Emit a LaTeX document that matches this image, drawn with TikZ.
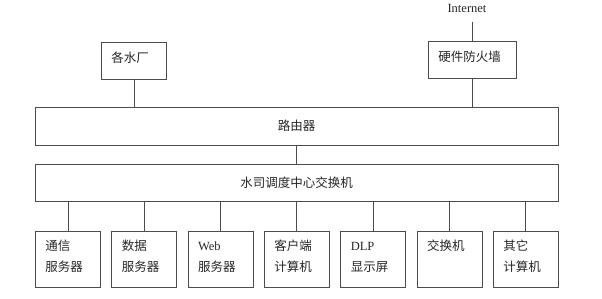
\documentclass[tikz,border=0pt]{standalone}
\usepackage{fontspec}
\setmainfont{Noto Sans CJK SC}
\newfontfamily\latin{Liberation Serif}
\usepackage{tikz}
\usetikzlibrary{positioning}

\begin{document}
\begin{tikzpicture}[x=1pt, y=-1pt,
  font=\fontsize{12.5}{21}\selectfont,
  box/.style={draw=black!70, line width=0.9pt, text=black!85},
  topbox/.style={box, anchor=north west, inner xsep=10pt, inner ysep=0pt, align=left, text height=20pt, text depth=17pt},
  unit/.style={box, inner xsep=10pt, inner ysep=0pt, text width=45pt, align=left, text height=19pt, text depth=37pt},
  bar/.style={box, minimum width=523pt, inner sep=0pt},
  link/.style={draw=black!70, line width=0.9pt}]
\useasboundingbox (0,0) rectangle (602,298);
% upper level
\node[text=black!85] (inet) at (467,8) {\latin Internet};
\node[topbox, text width=45pt] (plants) at (101,42) {各水厂};
\node[topbox, text width=68pt] (fw) at (428,41) {硬件防火墙};
\node[bar, minimum height=38pt] (router) at (296.5,126) {路由器};
\node[bar, minimum height=37pt] (switch) at (296.5,182.5) {水司调度中心交换机};
% terminals
\node[unit, anchor=north west] (comm) at (35,231) {通信\\服务器};
\node[unit, right=10.43pt of comm] (data) {数据\\服务器};
\node[unit, right=10.43pt of data] (web) {{\latin Web}\\服务器};
\node[unit, right=10.43pt of web] (client) {客户端\\计算机};
\node[unit, right=10.43pt of client] (dlp) {{\latin DLP}\\显示屏};
\node[unit, right=10.43pt of dlp] (subsw) {交换机};
\node[unit, right=10.43pt of subsw] (other) {其它\\计算机};
% links
\draw[link, shorten >=6pt] (fw.north) -- (fw.north |- inet.south);
\draw[link] (plants.south) -- (plants.south |- router.north);
\draw[link] (fw.south) -- (fw.south |- router.north);
\draw[link] (router) -- (switch);
\draw[link] (comm.north) -- (comm.north |- switch.south);
\draw[link] (data.north) -- (data.north |- switch.south);
\draw[link] (web.north) -- (web.north |- switch.south);
\draw[link] (client.north) -- (client.north |- switch.south);
\draw[link] (dlp.north) -- (dlp.north |- switch.south);
\draw[link] (subsw.north) -- (subsw.north |- switch.south);
\draw[link] (other.north) -- (other.north |- switch.south);
\end{tikzpicture}
\end{document}
